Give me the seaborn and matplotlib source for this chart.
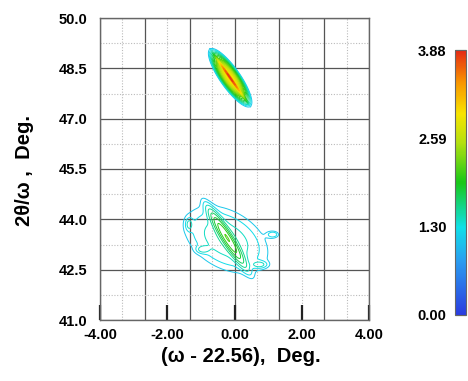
import numpy as np
import matplotlib
matplotlib.use("Agg")
import matplotlib.pyplot as plt
import seaborn as sns
from matplotlib.colors import LinearSegmentedColormap, Normalize
from matplotlib.cm import ScalarMappable

# peak parameters (log10 intensity)
# film streak (broad + ridge), substrate peak (narrow + diffuse), a few weak specks
peak_x = [-0.13, -0.13, -0.22, -0.25, 1.15, -1.35, 0.75, -0.95]
peak_y = [48.22, 48.22, 43.45, 43.40, 43.55, 43.85, 42.65, 43.10]
peak_logI = [3.00, 3.83, 2.05, 1.50, 1.25, 1.20, 1.25, 1.20]
peak_sig_long = [0.35, 0.26, 0.55, 0.95, 0.12, 0.12, 0.15, 0.12]
peak_sig_short = [0.10, 0.012, 0.09, 0.60, 0.07, 0.07, 0.07, 0.07]
peak_angle = [-55.0, -55.0, -58.0, -30.0, 0.0, 90.0, 0.0, 0.0]

x_ticks = [-4.0, -2.0, 0.0, 2.0, 4.0]
y_ticks = [41.0, 42.5, 44.0, 45.5, 47.0, 48.5, 50.0]
cbar_ticks = [0.00, 1.30, 2.59, 3.88]
vmax = 3.88

cmap = LinearSegmentedColormap.from_list("rsm", [
    (0.00, "#2a3ce0"), (0.20, "#2a9cf0"), (0.33, "#10e0e8"),
    (0.50, "#18c818"), (0.65, "#b4e010"), (0.76, "#f8e400"),
    (0.88, "#f89400"), (1.00, "#e42814")])

# intensity map from the peak list
gx = np.linspace(-4, 4, 600)
gy = np.linspace(41, 50, 680)
X, Y = np.meshgrid(gx, gy)
I = np.ones_like(X)
for px, py, li, sl, ss, ang in zip(peak_x, peak_y, peak_logI, peak_sig_long, peak_sig_short, peak_angle):
    a = np.deg2rad(ang)
    u = (X - px) * np.cos(a) + (Y - py) * np.sin(a)
    v = -(X - px) * np.sin(a) + (Y - py) * np.cos(a)
    I += 10 ** li * np.exp(-0.5 * (u ** 2 / sl ** 2 + v ** 2 / ss ** 2))
L = np.log10(I)

sns.set_theme(style="white")
plt.rcParams['font.family'] = ['Liberation Sans', 'DejaVu Sans']
plt.rcParams['font.weight'] = 'bold'
plt.rcParams['text.color'] = 'black'
plt.rcParams['xtick.color'] = 'black'
plt.rcParams['ytick.color'] = 'black'

fig = plt.figure(figsize=(4.68, 3.81), dpi=100)
ax = fig.add_axes([100 / 468, 61 / 381, 269 / 468, 302 / 381])

# grid: dark lines every 4/3 in x and 1.5 in y, dotted in between
for k in range(7):
    xv = -4 + k * 4 / 3
    ax.axvline(xv, color="#555555", lw=0.9, zorder=0)
    if k < 6:
        ax.axvline(xv + 2 / 3, color="#bbbbbb", lw=0.8, ls=(0, (1, 1.5)), zorder=0)
for yv in y_ticks:
    ax.axhline(yv, color="#555555", lw=0.9, zorder=0)
    if yv < 50:
        ax.axhline(yv + 0.75, color="#bbbbbb", lw=0.8, ls=(0, (1, 1.5)), zorder=0)

norm = Normalize(0, vmax)
ax.contourf(X, Y, L, levels=np.arange(2.2, 3.95, 0.1), cmap=cmap, norm=norm, zorder=2)
ax.contour(X, Y, L, levels=np.arange(1.1, 3.9, 0.15), cmap=cmap, norm=norm, linewidths=0.7, zorder=3)

ax.set_xlim(-4, 4)
ax.set_ylim(41, 50)
ax.set_xticks(x_ticks)
ax.set_xticklabels([f"{t:.2f}" for t in x_ticks])
ax.set_yticks(y_ticks)
ax.set_yticklabels([f"{t:.1f}" for t in y_ticks])
ax.tick_params(axis="x", bottom=True, direction="in", length=11, width=1.6, color="#222222",
               labelsize=10.5, pad=6, labelcolor="black")
ax.tick_params(axis="y", left=False, length=0, labelsize=10.5, pad=9, labelcolor="black")
for lab in ax.get_xticklabels() + ax.get_yticklabels():
    lab.set_fontweight("bold")
for s in ax.spines.values():
    s.set_color("#666666")
    s.set_linewidth(1.0)

fig.text(241 / 468, 1 - 356 / 381, "(ω - 22.56),  Deg.", fontsize=14.5, fontweight="bold",
         ha="center", va="center", color="black")
fig.text(25 / 468, 1 - 170 / 381, "2θ/ω ,  Deg.", fontsize=14.5, fontweight="bold",
         ha="center", va="center", rotation=90, color="black")

cax = fig.add_axes([455 / 468, 66 / 381, 11 / 468, 265 / 381])
cb = fig.colorbar(ScalarMappable(norm=norm, cmap=cmap), cax=cax, ticks=cbar_ticks)
cb.outline.set_edgecolor("#666666")
cb.outline.set_linewidth(0.8)
cax.yaxis.set_ticks_position("left")
cax.tick_params(left=True, direction="in", length=8, width=0.8, color="#336633",
                labelsize=10.5, pad=6, labelcolor="black")
cax.set_yticklabels([f"{t:.2f}" for t in cbar_ticks])
for lab in cax.get_yticklabels():
    lab.set_fontweight("bold")

fig.savefig("out.png", dpi=100)
